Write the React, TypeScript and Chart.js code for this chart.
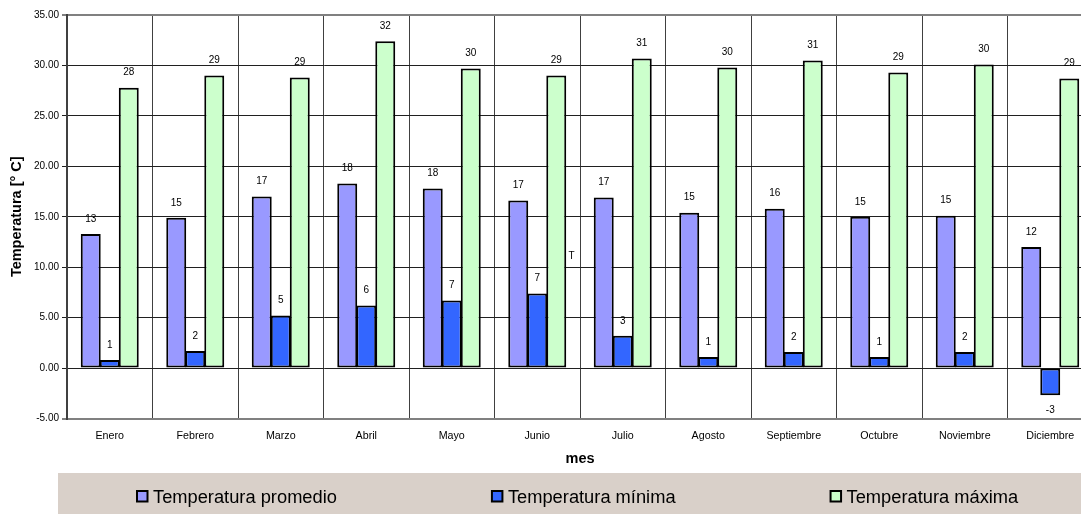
import React, { useEffect, useRef } from 'react';
import { Chart, registerables } from 'chart.js';

Chart.register(...registerables);

const categories = ['Enero', 'Febrero', 'Marzo', 'Abril', 'Mayo', 'Junio', 'Julio', 'Agosto', 'Septiembre', 'Octubre', 'Noviembre', 'Diciembre'];
const seriesLabels = ['Temperatura promedio', 'Temperatura mínima', 'Temperatura máxima'];
const promedio = [13.3, 14.9, 17.0, 18.3, 17.8, 16.6, 16.9, 15.4, 15.8, 15.0, 15.1, 12.0];
const minima = [0.8, 1.7, 5.2, 6.2, 6.7, 7.4, 3.2, 1.1, 1.6, 1.1, 1.6, -2.7];
const maxima = [27.8, 29.0, 28.8, 32.4, 29.7, 29.0, 30.7, 29.8, 30.5, 29.3, 30.1, 28.7];
const seriesColors = ['#9999FF', '#3366FF', '#CCFFCC'];
const yMin = -5;
const yMax = 35;
const yStep = 5;
const xTitle = 'mes';
const yTitle = 'Temperatura [° C]';
const noteText = 'T';
const noteCategoryIndex = 5;
const noteValue = 11.1;

const FONT = 'Arial, "Liberation Sans", sans-serif';

const valueLabels = {
  id: 'valueLabels',
  afterDatasetsDraw(chart: any) {
    const ctx = chart.ctx;
    ctx.save();
    ctx.font = `10px ${FONT}`;
    ctx.fillStyle = '#000';
    ctx.textAlign = 'center';
    ctx.textBaseline = 'middle';
    chart.data.datasets.forEach((ds: any, i: number) => {
      const meta = chart.getDatasetMeta(i);
      meta.data.forEach((el: any, j: number) => {
        const v = ds.data[j] as number;
        const { x, y } = el.getProps(['x', 'y'], true);
        const yy = v >= 0 ? y - 15 : y + 15;
        ctx.fillText(String(Math.round(v)), x, yy);
      });
    });
    const xs = chart.scales.x;
    const ys = chart.scales.y;
    ctx.fillText(noteText, xs.getPixelForValue(noteCategoryIndex + 0.4), ys.getPixelForValue(noteValue));
    ctx.restore();
  },
};

const legendBox = {
  id: 'legendBox',
  afterDraw(chart: any) {
    const ctx = chart.ctx;
    ctx.save();
    ctx.fillStyle = '#D9D0C9';
    ctx.fillRect(58, 473, chart.width - 58, chart.height - 473);
    ctx.font = `18.3px ${FONT}`;
    let x = 136;
    chart.data.datasets.forEach((ds: any) => {
      ctx.fillStyle = ds.backgroundColor;
      ctx.fillRect(x + 1, 491, 10.5, 10.5);
      ctx.strokeStyle = '#000';
      ctx.lineWidth = 2;
      ctx.strokeRect(x + 1, 491, 10.5, 10.5);
      ctx.fillStyle = '#000';
      ctx.textAlign = 'left';
      ctx.textBaseline = 'alphabetic';
      ctx.fillText(ds.label, x + 17, 503);
      x += 17 + ctx.measureText(ds.label).width + 154;
    });
    ctx.restore();
  },
};

export default function App() {
  const ref = useRef<HTMLCanvasElement | null>(null);

  useEffect(() => {
    if (!ref.current) return;
    const isEdge = (v: number) => v === yMax || v === yMin;
    const chart = new Chart(ref.current, {
      type: 'bar',
      data: {
        labels: categories,
        datasets: [promedio, minima, maxima].map((d, i) => ({
          label: seriesLabels[i],
          data: d,
          backgroundColor: seriesColors[i],
          borderColor: '#000',
          borderWidth: 2,
          borderSkipped: false,
          inflateAmount: 0,
          barPercentage: 1.05,
          categoryPercentage: 0.667,
        })),
      },
      options: {
        animation: false,
        responsive: false,
        layout: { padding: { top: 15, right: 6, bottom: 41, left: 0 } },
        plugins: {
          legend: { display: false },
          tooltip: { enabled: false },
        },
        scales: {
          x: {
            grid: { color: '#404040', lineWidth: 1, drawTicks: false, offset: true },
            border: { color: '#808080', width: 2 },
            ticks: { font: { size: 10.7, family: FONT }, color: '#000', padding: 11, maxRotation: 0, autoSkip: false },
            title: {
              display: true,
              text: xTitle,
              font: { size: 14.5, weight: 'bold', family: FONT },
              color: '#000',
              padding: { top: 0, bottom: 5 },
            },
            afterFit: (s: any) => { s.height = 54.5; },
          },
          y: {
            min: yMin,
            max: yMax,
            ticks: {
              stepSize: yStep,
              callback: (v: any) => Number(v).toFixed(2),
              font: { size: 10, family: FONT },
              color: '#000',
              padding: 3,
            },
            grid: {
              color: (c: any) => (isEdge(c.tick?.value) ? '#808080' : '#202020'),
              lineWidth: (c: any) => (isEdge(c.tick?.value) ? 2 : 1),
              tickLength: 5,
              drawTicks: true,
            },
            border: { color: '#404040', width: 2 },
            title: {
              display: true,
              text: yTitle,
              font: { size: 14.5, weight: 'bold', family: FONT },
              color: '#000',
              padding: { top: 8, bottom: 0 },
            },
            afterFit: (s: any) => { s.width = 67; },
          },
        },
      } as any,
      plugins: [valueLabels, legendBox],
    });
    return () => chart.destroy();
  }, []);

  return (
    <div style={{ position: 'fixed', left: 0, top: 0, width: 1081, height: 514, overflow: 'hidden', background: '#fff' }}>
      <canvas ref={ref} width={1099} height={514} style={{ display: 'block', width: 1099, height: 514 }} />
    </div>
  );
}
